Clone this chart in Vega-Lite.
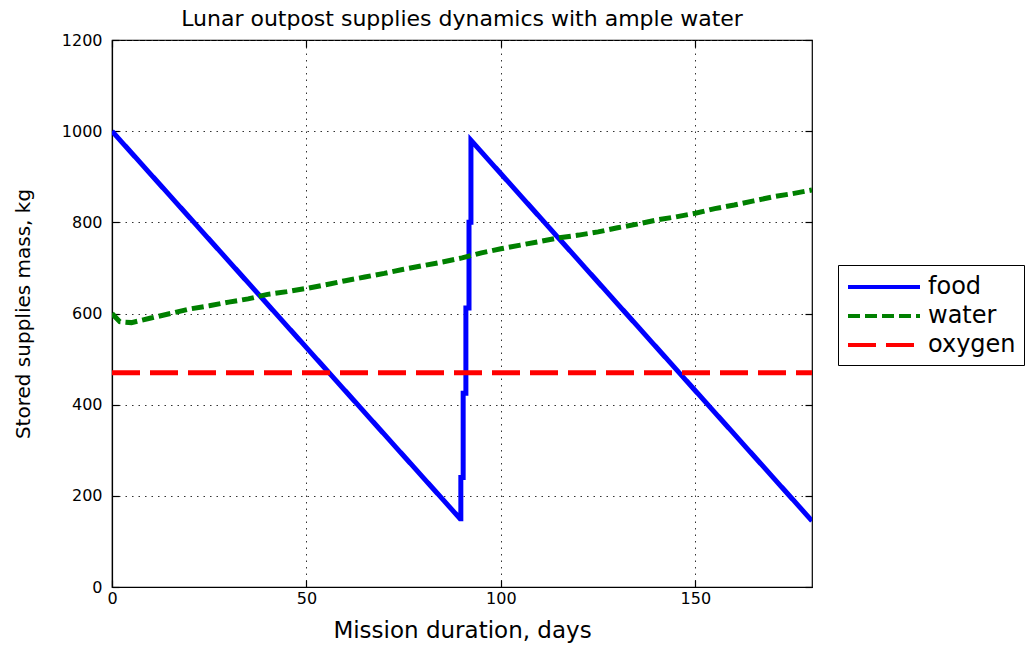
{
  "$schema": "https://vega.github.io/schema/vega-lite/v6.json",
  "width": 700,
  "height": 547,
  "autosize": "none",
  "padding": {"left": 112, "top": 40, "right": 219, "bottom": 58},
  "background": "white",
  "config": {
    "view": {"stroke": "black", "strokeWidth": 1.2},
    "font": "DejaVu Sans",
    "axis": {
      "labelFont": "DejaVu Sans",
      "titleFont": "DejaVu Sans",
      "labelColor": "black",
      "titleColor": "black",
      "titleFontWeight": "normal",
      "domainColor": "black",
      "tickColor": "black",
      "gridColor": "#333333",
      "gridDash": [1.5, 5],
      "gridWidth": 1
    }
  },
  "title": {
    "text": "Lunar outpost supplies dynamics with ample water",
    "fontSize": 22,
    "fontWeight": "normal",
    "font": "DejaVu Sans",
    "color": "black",
    "anchor": "middle",
    "frame": "group",
    "offset": 1
  },
  "data": {
    "values": [
      {"series": "food", "t": 0, "day": 0, "kg": 1000},
      {"series": "food", "t": 1, "day": 89.5, "kg": 150},
      {"series": "food", "t": 2, "day": 89.7, "kg": 150},
      {"series": "food", "t": 3, "day": 89.7, "kg": 240},
      {"series": "food", "t": 4, "day": 90.3, "kg": 240},
      {"series": "food", "t": 5, "day": 90.3, "kg": 425},
      {"series": "food", "t": 6, "day": 91.0, "kg": 425},
      {"series": "food", "t": 7, "day": 91.0, "kg": 612},
      {"series": "food", "t": 8, "day": 91.8, "kg": 612},
      {"series": "food", "t": 9, "day": 91.8, "kg": 800},
      {"series": "food", "t": 10, "day": 92.3, "kg": 800},
      {"series": "food", "t": 11, "day": 92.3, "kg": 980},
      {"series": "food", "t": 12, "day": 180, "kg": 145},
      {"series": "water", "t": 0, "day": 0, "kg": 600},
      {"series": "water", "t": 1, "day": 2, "kg": 582},
      {"series": "water", "t": 2, "day": 5, "kg": 580},
      {"series": "water", "t": 3, "day": 10, "kg": 590},
      {"series": "water", "t": 4, "day": 15, "kg": 600},
      {"series": "water", "t": 5, "day": 20, "kg": 610},
      {"series": "water", "t": 6, "day": 25, "kg": 617},
      {"series": "water", "t": 7, "day": 30, "kg": 625},
      {"series": "water", "t": 8, "day": 35, "kg": 632},
      {"series": "water", "t": 9, "day": 40, "kg": 642},
      {"series": "water", "t": 10, "day": 45, "kg": 648},
      {"series": "water", "t": 11, "day": 50, "kg": 655},
      {"series": "water", "t": 12, "day": 55, "kg": 663},
      {"series": "water", "t": 13, "day": 60, "kg": 672},
      {"series": "water", "t": 14, "day": 65, "kg": 680},
      {"series": "water", "t": 15, "day": 70, "kg": 688},
      {"series": "water", "t": 16, "day": 75, "kg": 697},
      {"series": "water", "t": 17, "day": 80, "kg": 705},
      {"series": "water", "t": 18, "day": 85, "kg": 713},
      {"series": "water", "t": 19, "day": 90, "kg": 722},
      {"series": "water", "t": 20, "day": 95, "kg": 733},
      {"series": "water", "t": 21, "day": 100, "kg": 742},
      {"series": "water", "t": 22, "day": 105, "kg": 750},
      {"series": "water", "t": 23, "day": 110, "kg": 758},
      {"series": "water", "t": 24, "day": 115, "kg": 766},
      {"series": "water", "t": 25, "day": 120, "kg": 772},
      {"series": "water", "t": 26, "day": 125, "kg": 779},
      {"series": "water", "t": 27, "day": 130, "kg": 788},
      {"series": "water", "t": 28, "day": 135, "kg": 796},
      {"series": "water", "t": 29, "day": 140, "kg": 805},
      {"series": "water", "t": 30, "day": 145, "kg": 812},
      {"series": "water", "t": 31, "day": 150, "kg": 820},
      {"series": "water", "t": 32, "day": 155, "kg": 830},
      {"series": "water", "t": 33, "day": 160, "kg": 838},
      {"series": "water", "t": 34, "day": 165, "kg": 847},
      {"series": "water", "t": 35, "day": 170, "kg": 856},
      {"series": "water", "t": 36, "day": 175, "kg": 863},
      {"series": "water", "t": 37, "day": 180, "kg": 871},
      {"series": "oxygen", "t": 0, "day": 0, "kg": 470},
      {"series": "oxygen", "t": 1, "day": 180, "kg": 470}
    ]
  },
  "layer": [
    {
      "mark": {"type": "line", "strokeWidth": 5, "strokeCap": "butt", "clip": true},
      "encoding": {
        "x": {
          "field": "day", "type": "quantitative",
          "scale": {"domain": [0, 180], "nice": false, "zero": false},
          "axis": {
            "values": [0, 50, 100, 150],
            "title": "Mission duration, days",
            "titleFontSize": 23,
            "titlePadding": 13,
            "labelFontSize": 16,
            "labelPadding": 10,
            "labelFlush": false,
            "tickSize": -7,
            "tickWidth": 1.2,
            "domainWidth": 1.2,
            "grid": true
          }
        },
        "y": {
          "field": "kg", "type": "quantitative",
          "scale": {"domain": [0, 1200], "nice": false},
          "axis": {
            "values": [0, 200, 400, 600, 800, 1000, 1200],
            "format": "d",
            "title": "Stored supplies mass, kg",
            "titleFontSize": 20,
            "titlePadding": 28,
            "labelFontSize": 16,
            "labelPadding": 17,
            "tickSize": -7,
            "tickWidth": 1.2,
            "domainWidth": 1.2,
            "grid": true
          }
        },
        "color": {
          "field": "series", "type": "nominal",
          "scale": {"domain": ["food", "water", "oxygen"], "range": ["#0000ff", "#008000", "#ff0000"]},
          "legend": {
            "title": null,
            "orient": "none",
            "legendX": 726,
            "legendY": 225,
            "strokeColor": "black",
            "fillColor": "white",
            "padding": 8,
            "labelFont": "DejaVu Sans",
            "labelFontSize": 24,
            "labelColor": "black",
            "labelOffset": 54,
            "symbolType": "M-1,0L5,0",
            "symbolSize": 576,
            "symbolStrokeWidth": 4,
            "rowPadding": 3
          }
        },
        "strokeDash": {
          "field": "series", "type": "nominal",
          "scale": {"domain": ["food", "water", "oxygen"], "range": [[1, 0], [12, 5], [28, 10]]},
          "legend": {
            "title": null,
            "orient": "none",
            "legendX": 726,
            "legendY": 225,
            "strokeColor": "black",
            "fillColor": "white",
            "padding": 8,
            "labelFont": "DejaVu Sans",
            "labelFontSize": 24,
            "labelColor": "black",
            "labelOffset": 54,
            "symbolType": "M-1,0L5,0",
            "symbolSize": 576,
            "symbolStrokeWidth": 4,
            "rowPadding": 3
          }
        },
        "order": {"field": "t", "type": "quantitative"}
      }
    },
    {
      "mark": {"type": "point", "opacity": 0},
      "encoding": {
        "x": {
          "field": "day", "type": "quantitative",
          "axis": {"orient": "top", "values": [0, 50, 100, 150], "labels": false, "title": null, "domain": false, "grid": false, "tickSize": -7, "tickWidth": 1.2}
        },
        "y": {
          "field": "kg", "type": "quantitative",
          "axis": {"orient": "right", "values": [0, 200, 400, 600, 800, 1000, 1200], "labels": false, "title": null, "domain": false, "grid": false, "tickSize": -7, "tickWidth": 1.2}
        }
      }
    }
  ],
  "resolve": {"axis": {"x": "independent", "y": "independent"}}
}
